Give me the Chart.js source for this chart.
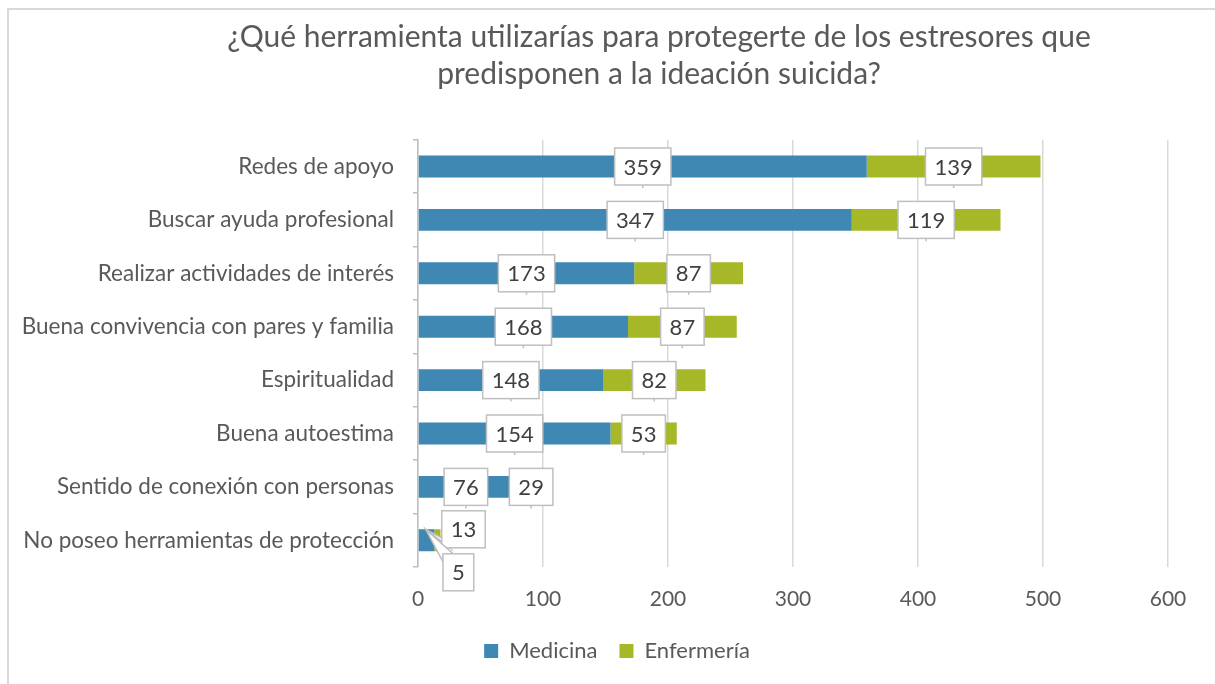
<!DOCTYPE html>
<html>
<head>
<meta charset="utf-8">
<script src="https://cdn.jsdelivr.net/npm/chart.js@4.4.1/dist/chart.umd.min.js"></script>
<style>
  html, body { margin: 0; padding: 0; background: #fff; overflow: hidden; }
  #frame {
    position: absolute; left: 7px; top: 8px; width: 1320px; height: 720px;
    border-left: 2px solid #d9d9d9; border-top: 2px solid #d9d9d9;
  }
  #wrap { position: absolute; left: 0; top: 0; width: 1300px; height: 675px; }
</style>
</head>
<body>
<div id="frame"><div id="wrap"><canvas id="chart"></canvas></div></div>
<script>
const categories = [
  'Redes de apoyo',
  'Buscar ayuda profesional',
  'Realizar actividades de interés',
  'Buena convivencia con pares y familia',
  'Espiritualidad',
  'Buena autoestima',
  'Sentido de conexión con personas',
  'No poseo herramientas de protección'
];
const medicina = [359, 347, 173, 168, 148, 154, 76, 13];
const enfermeria = [139, 119, 87, 87, 82, 53, 29, 5];
const xTicks = [0, 100, 200, 300, 400, 500, 600];

const BLUE = '#3f88b4';
const GREEN = '#a6b827';
const TEXT = '#595959';

// callouts moved off the bar (dataset index -> data index -> [dx, dy])
const labelOffsets = { 0: { 7: [37, -11] }, 1: { 7: [21, 32] } };

const calloutLabels = {
  id: 'calloutLabels',
  afterDatasetsDraw(chart) {
    const ctx = chart.ctx;
    ctx.save();
    ctx.font = '22px Lato';
    ctx.textAlign = 'center';
    ctx.textBaseline = 'middle';
    chart.data.datasets.forEach((ds, di) => {
      const meta = chart.getDatasetMeta(di);
      meta.data.forEach((bar, i) => {
        const txt = String(ds.data[i]);
        let cx = (bar.x + bar.base) / 2;
        let cy = bar.y;
        const w = ctx.measureText(txt).width + 18;
        const h = 37;
        const off = labelOffsets[di] && labelOffsets[di][i];
        if (off) {
          const first = chart.getDatasetMeta(0).data[i];
          const tipX = first.base + 7;
          const tipY = first.y - first.height / 2;
          cx += off[0];
          cy += off[1];
          const L = cx - w / 2;
          ctx.beginPath();
          ctx.moveTo(tipX, tipY);
          if (off[1] < 0) {
            const B = cy + h / 2;
            ctx.lineTo(L, B - 10);
            ctx.lineTo(L + 8, B);
          } else {
            const T = cy - h / 2;
            ctx.lineTo(L, T + 8);
            ctx.lineTo(L + 10, T);
          }
          ctx.closePath();
          ctx.fillStyle = '#fff';
          ctx.fill();
          ctx.strokeStyle = '#bfbfbf';
          ctx.lineWidth = 1.5;
          ctx.stroke();
        } else {
          ctx.strokeStyle = '#bfbfbf';
          ctx.lineWidth = 1.5;
          ctx.beginPath();
          ctx.moveTo(cx, cy + h / 2);
          ctx.lineTo(cx, cy + h / 2 + 3);
          ctx.stroke();
        }
        ctx.fillStyle = '#fff';
        ctx.fillRect(cx - w / 2, cy - h / 2, w, h);
        ctx.strokeStyle = '#bfbfbf';
        ctx.lineWidth = 1.5;
        ctx.strokeRect(cx - w / 2, cy - h / 2, w, h);
        ctx.fillStyle = '#404040';
        ctx.fillText(txt, cx, cy + 1);
      });
    });
    ctx.restore();
  }
};

// legend sits left of the title's centre in the original
const legendShift = {
  id: 'legendShift',
  afterLayout(chart) {
    chart.legend.left -= 42;
    chart.legend.right -= 42;
  }
};

new Chart(document.getElementById('chart'), {
  type: 'bar',
  data: {
    labels: categories,
    datasets: [
      { label: 'Medicina', data: medicina, backgroundColor: BLUE, barPercentage: 0.41, categoryPercentage: 1 },
      { label: 'Enfermería', data: enfermeria, backgroundColor: GREEN, barPercentage: 0.41, categoryPercentage: 1 }
    ]
  },
  options: {
    indexAxis: 'y',
    responsive: true,
    maintainAspectRatio: false,
    animation: false,
    layout: { padding: { left: 0, right: 0, top: 0, bottom: 13 } },
    scales: {
      x: {
        stacked: true,
        min: 0,
        max: 600,
        afterBuildTicks: (scale) => { scale.ticks = xTicks.map(v => ({ value: v })); },
        afterFit: (scale) => { scale.height = 51; },
        grid: { color: '#d9d9d9', lineWidth: 1.5, drawTicks: false },
        border: { display: false },
        ticks: { color: TEXT, font: { family: 'Lato', size: 21 }, padding: 20 }
      },
      y: {
        stacked: true,
        afterFit: (scale) => { scale.width = 409; },
        grid: { offset: true, drawOnChartArea: false, color: '#bfbfbf', lineWidth: 1.5, tickLength: 5 },
        border: { display: true, color: '#bfbfbf', width: 1.5 },
        ticks: { color: TEXT, font: { family: 'Lato', size: 22.5 }, padding: 19 }
      },
      // empty right-hand strip so the title keeps the full width
      pad: {
        type: 'category',
        position: 'right',
        afterFit: (scale) => { scale.width = 141; },
        grid: { display: false },
        border: { display: false },
        ticks: { display: false }
      }
    },
    plugins: {
      title: {
        display: true,
        text: ['¿Qué herramienta utilizarías para protegerte de los estresores que', 'predisponen a la ideación suicida?'],
        color: TEXT,
        font: { family: 'Lato', size: 30, weight: 'normal', lineHeight: 1.23 },
        padding: { top: 9, bottom: 47 }
      },
      legend: {
        position: 'bottom',
        labels: { color: TEXT, font: { family: 'Lato', size: 22 }, boxWidth: 14, boxHeight: 14, padding: 22 }
      },
      tooltip: { enabled: false }
    }
  },
  plugins: [calloutLabels, legendShift]
});
</script>
</body>
</html>
